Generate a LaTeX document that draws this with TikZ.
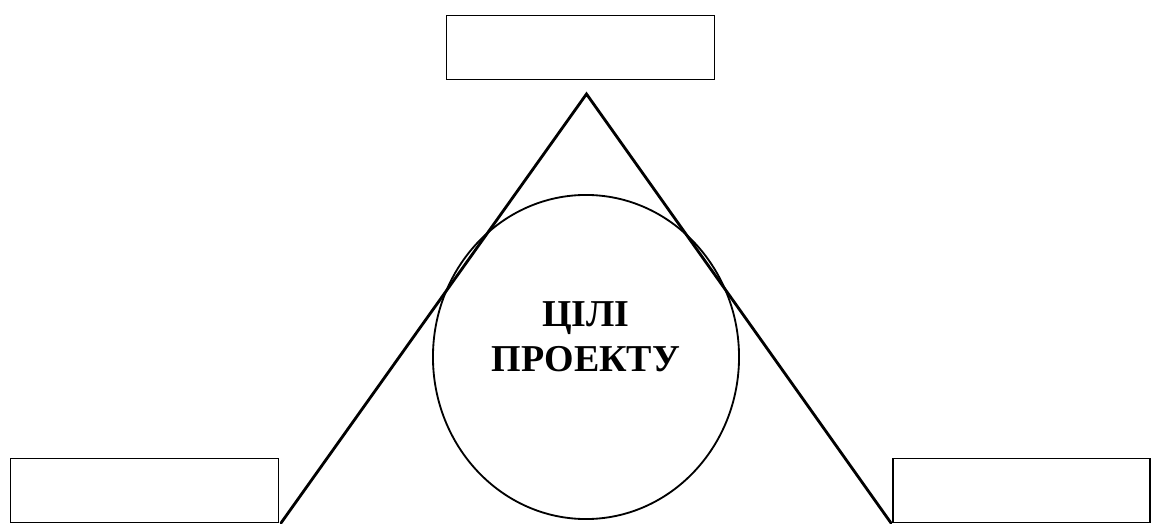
\documentclass[tikz,border=0pt]{standalone}
\usepackage{fontspec}
\setmainfont{Liberation Serif}
\usepackage{tikz}
\usetikzlibrary{positioning,shapes.geometric}
\tikzset{
  blank/.style={draw,line width=1.2pt,minimum width=6.7cm,minimum height=1.6cm,inner sep=0pt},
  side/.style={line width=2pt,line cap=round},
  goal/.style={draw,ellipse,line width=1.3pt,minimum width=7.65cm,minimum height=8.1cm,inner sep=0pt}
}
\begin{document}
\begin{tikzpicture}[x=0.025cm,y=-0.025cm]
  \useasboundingbox (0,0) rectangle (1153,524);
  % boxes at the corners
  \node[blank] (top) at (580.5,47.5) {};
  \node[blank] (left) at (144.5,490.5) {};
  \node[blank,minimum width=6.425cm] (right) at (1021.5,490.5) {};

  % triangle
  \coordinate (apex) at (586.5,94);
  \coordinate (bl) at (281,523);
  \coordinate (br) at (891,523);
  \draw[side] (bl) -- (apex) -- (br);

  % circle with the goals
  \node[goal] (goals) at (586,357) {};
  \node[font=\fontsize{27}{32}\selectfont\bfseries,align=center] (txt) at (586,337) {ЦІЛІ\\ПРОЕКТУ};
\end{tikzpicture}
\end{document}
